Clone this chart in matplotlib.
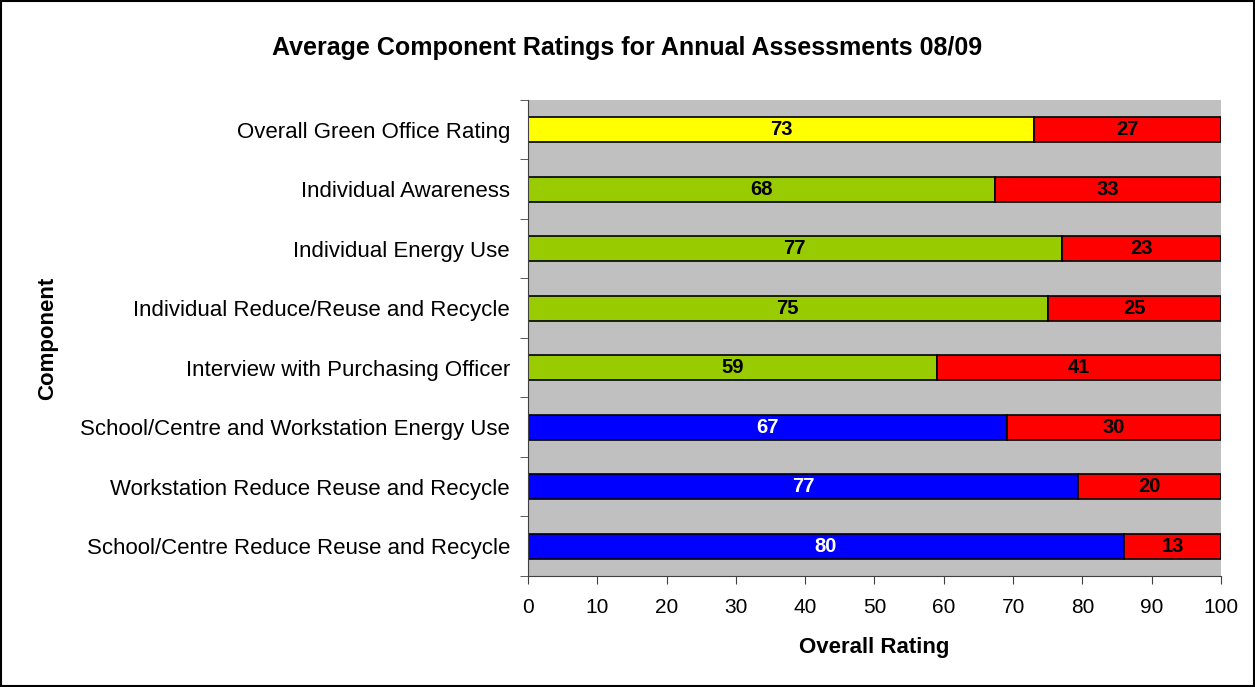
import numpy as np
import matplotlib
matplotlib.use('Agg')
from matplotlib import pyplot as plt
from matplotlib.patches import Rectangle

plt.rcParams['font.family'] = ['Liberation Sans', 'DejaVu Sans']

components = ['Overall Green Office Rating',
              'Individual Awareness',
              'Individual Energy Use',
              'Individual Reduce/Reuse and Recycle',
              'Interview with Purchasing Officer',
              'School/Centre and Workstation Energy Use',
              'Workstation Reduce Reuse and Recycle',
              'School/Centre Reduce Reuse and Recycle']
achieved = [73, 68, 77, 75, 59, 67, 77, 80]
missed = [27, 33, 23, 25, 41, 30, 20, 13]
bar_colors = ['#FFFF00', '#99CC00', '#99CC00', '#99CC00', '#99CC00',
              '#0000FF', '#0000FF', '#0000FF']
label_colors = ['black', 'black', 'black', 'black', 'black',
                'white', 'white', 'white']

ach = np.array(achieved, dtype=float)
mis = np.array(missed, dtype=float)
tot = ach + mis
ach_pct = ach / tot * 100
mis_pct = mis / tot * 100

fig = plt.figure(figsize=(12.55, 6.87), dpi=100)
ax = fig.add_axes([0.4207, 0.1616, 0.5522, 0.6929])
ax.set_facecolor('#C0C0C0')

y = np.arange(len(components))
h = 0.42
ax.barh(y, ach_pct, height=h, color=bar_colors, edgecolor='black', linewidth=1.2)
ax.barh(y, mis_pct, left=ach_pct, height=h, color='#FF0000', edgecolor='black', linewidth=1.2)

for i in range(len(components)):
    ax.text(ach_pct[i] / 2, y[i], str(achieved[i]), ha='center', va='center',
            fontsize=14.5, fontweight='bold', color=label_colors[i])
    ax.text(ach_pct[i] + mis_pct[i] / 2, y[i], str(missed[i]), ha='center', va='center',
            fontsize=14.5, fontweight='bold', color='black')

ax.set_xlim(0, 100)
ax.set_ylim(len(components) - 0.5, -0.5)
ax.set_xticks(np.arange(0, 101, 10))
ax.set_yticks(y)
ax.set_yticklabels(components, fontsize=16)
ax.set_yticks(np.arange(-0.5, len(components)), minor=True)
ax.tick_params(axis='y', which='major', length=0, pad=13)
ax.tick_params(axis='y', which='minor', length=6, color='#404040')
ax.tick_params(axis='x', length=6, labelsize=15, color='#404040', pad=10)

for side in ['top', 'right']:
    ax.spines[side].set_visible(False)
ax.spines['left'].set_color('#404040')
ax.spines['bottom'].set_color('#404040')

ax.set_xlabel('Overall Rating', fontsize=16, fontweight='bold', labelpad=14)
ax.set_ylabel('Component', fontsize=16, fontweight='bold', labelpad=16)
fig.text(0.5, 0.93, 'Average Component Ratings for Annual Assessments 08/09',
         ha='center', va='center', fontsize=18, fontweight='bold')

fig.patches.append(Rectangle((0.001, 0.001), 0.998, 0.998, transform=fig.transFigure,
                             fill=False, edgecolor='black', linewidth=1.5))

fig.savefig('out.png', dpi=100)
